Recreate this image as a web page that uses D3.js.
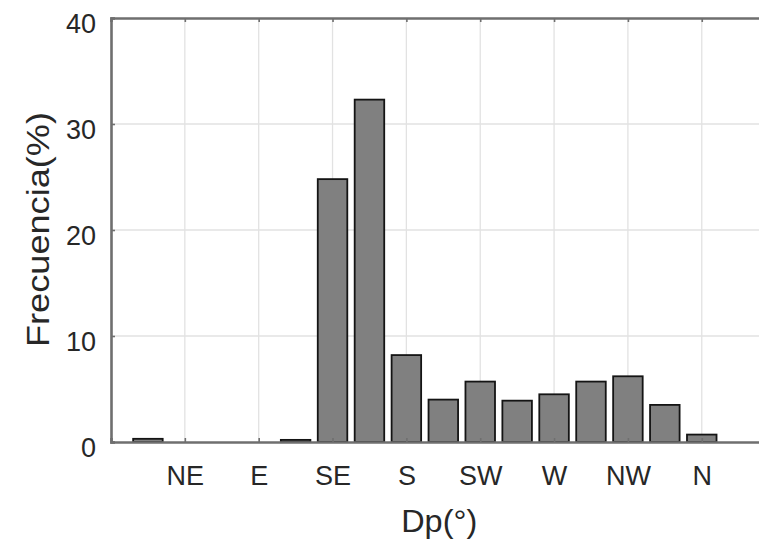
<!DOCTYPE html>
<html>
<head>
<meta charset="utf-8">
<script src="https://cdn.jsdelivr.net/npm/d3@7"></script>
<style>
  html, body { margin: 0; padding: 0; background: #fff; }
  svg { display: block; }
  text { font-family: "Liberation Sans", Arial, Helvetica, sans-serif; }
</style>
</head>
<body>
<svg id="chart" width="759" height="543"></svg>
<script>
// ---- data ----
const binCenters = [22.5, 45, 67.5, 90, 112.5, 135, 157.5, 180, 202.5, 225, 247.5, 270, 292.5, 315, 337.5, 360];
const frequencies = [0.3, 0, 0, 0, 0.2, 24.8, 32.3, 8.2, 4.0, 5.7, 3.9, 4.5, 5.7, 6.2, 3.5, 0.7];
const xTickValues = [45, 90, 135, 180, 225, 270, 315, 360];
const xTickLabels = ["NE", "E", "SE", "S", "SW", "W", "NW", "N"];
const yTickValues = [0, 10, 20, 30, 40];
const binWidth = 22.5;

// ---- layout ----
const svg = d3.select("#chart");
const mLeft = 111, mTop = 18, mBottom = 442;
const x = d3.scaleLinear().domain([0, 400]).range([mLeft, mLeft + 400 * 1.641]);
const y = d3.scaleLinear().domain([0, 40]).range([mBottom, mTop]);
const mRight = x(400);

const axisColor = "#6f6f6f";
const textColor = "#272727";

// grid
const g = svg.append("g");
g.selectAll("line.vgrid").data(xTickValues).enter().append("line")
  .attr("x1", d => x(d)).attr("x2", d => x(d))
  .attr("y1", mTop).attr("y2", mBottom)
  .attr("stroke", "#e2e2e2").attr("stroke-width", 1.3);
g.selectAll("line.hgrid").data(yTickValues.filter(v => v > 0 && v < 40)).enter().append("line")
  .attr("x1", mLeft).attr("x2", mRight)
  .attr("y1", d => y(d)).attr("y2", d => y(d))
  .attr("stroke", "#e2e2e2").attr("stroke-width", 1.3);

// bars
const barW = x(binWidth * 0.8) - x(0);
svg.append("g").selectAll("rect").data(binCenters.map((c, i) => ({c, v: frequencies[i]})).filter(d => d.v > 0))
  .enter().append("rect")
  .attr("x", d => x(d.c) - barW / 2)
  .attr("width", barW)
  .attr("y", d => y(d.v))
  .attr("height", d => y(0) - y(d.v))
  .attr("fill", "#808080")
  .attr("stroke", "#141414")
  .attr("stroke-width", 1.8);

// axes (MATLAB-style box, inward ticks)
const xBottom = d3.axisBottom(x).tickValues(xTickValues).tickSize(-4).tickFormat((d, i) => xTickLabels[i]).tickPadding(0);
const gxB = svg.append("g").attr("transform", `translate(0,${mBottom})`).call(xBottom);
const xTopAxis = d3.axisTop(x).tickValues(xTickValues).tickSize(-4).tickFormat("");
const gxT = svg.append("g").attr("transform", `translate(0,${mTop})`).call(xTopAxis);
const yLeft = d3.axisLeft(y).tickValues(yTickValues).tickSize(-4).tickPadding(15);
const gyL = svg.append("g").attr("transform", `translate(${mLeft},0)`).call(yLeft);
const yRightAxis = d3.axisRight(y).tickValues(yTickValues).tickSize(-4).tickFormat("");
const gyR = svg.append("g").attr("transform", `translate(${mRight},0)`).call(yRightAxis);

[gxB, gxT, gyL, gyR].forEach(a => {
  a.select(".domain").attr("stroke", axisColor).attr("stroke-width", 2.6);
  a.selectAll(".tick line").attr("stroke", axisColor).attr("stroke-width", 1.6);
  a.selectAll(".tick text").attr("fill", textColor).style("font-size", "27px")
    .style("font-family", '"Liberation Sans", Arial, sans-serif');
});
gyL.selectAll(".tick text").attr("x", -15).attr("dy", null).attr("y", 0)
  .attr("dominant-baseline", null)
  .attr("transform", "translate(0,14)");
gxB.selectAll(".tick text").attr("dy", null).attr("y", 43);

// axis labels
svg.append("text")
  .attr("x", x(200)).attr("y", 532)
  .attr("text-anchor", "middle")
  .attr("fill", textColor)
  .style("font-size", "32px")
  .attr("textLength", 76)
  .attr("lengthAdjust", "spacingAndGlyphs")
  .text("Dp(°)");

svg.append("text")
  .attr("transform", `translate(49,${(112 + 347) / 2}) rotate(-90)`)
  .attr("text-anchor", "middle")
  .attr("fill", textColor)
  .style("font-size", "31px")
  .attr("textLength", 235)
  .attr("lengthAdjust", "spacingAndGlyphs")
  .text("Frecuencia(%)");
</script>
</body>
</html>
